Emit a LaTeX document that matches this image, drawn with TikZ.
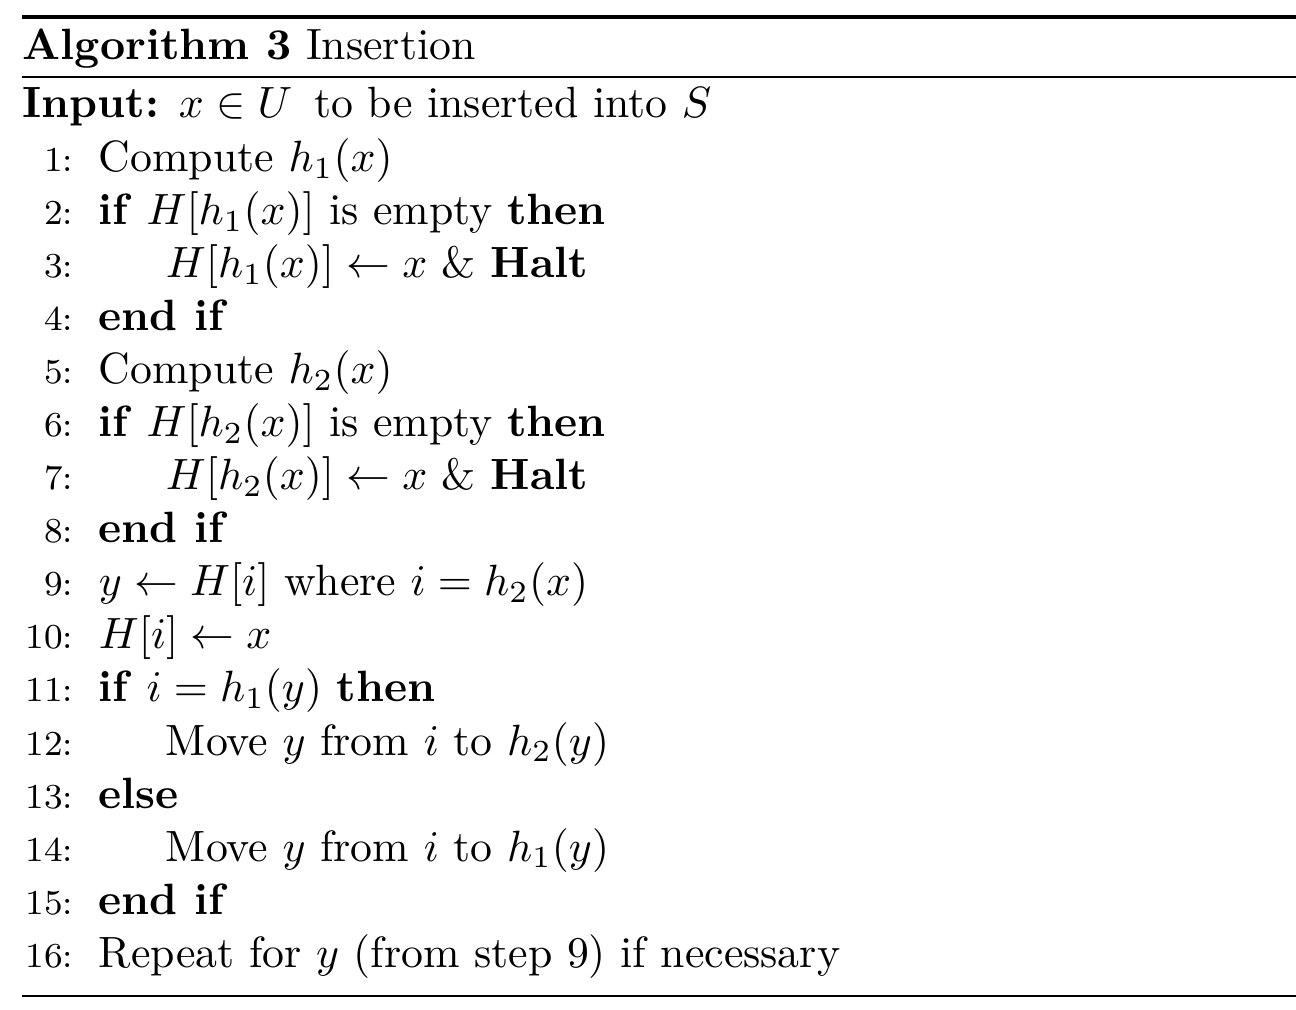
\documentclass[tikz,border=0pt]{standalone}
\usepackage{amsmath}
\usetikzlibrary{positioning}

\tikzset{
  txt/.style={inner sep=0pt, anchor=base west},
  lno/.style={inner sep=0pt, anchor=base east, font=\footnotesize},
}

\begin{document}
\begin{tikzpicture}[x=0.2283pt,y=-0.2283pt]
                \useasboundingbox (0,0) rectangle (1296,1010);
                % rules of the float
                \draw[line width=0.8pt] (22,17) -- (1296,17);
                \draw[line width=0.4pt] (22,77) -- (1296,77);
                \draw[line width=0.4pt] (22,996) -- (1296,996);
                \node[txt] (cap) at (22,60) {\textbf{Algorithm 3} Insertion};
                \node[txt] (input) at (22,118) {\textbf{Input:} $x \in U$\, to be inserted into $S$};
                % numbered steps
                \foreach \n/\ind/\t in {
                  1/0/{Compute $h_1(x)$},
                  2/0/{\textbf{if} $H[h_1(x)]$ is empty \textbf{then}},
                  3/1/{$H[h_1(x)] \leftarrow x$ \& \textbf{Halt}},
                  4/0/{\textbf{end if}},
                  5/0/{Compute $h_2(x)$},
                  6/0/{\textbf{if} $H[h_2(x)]$ is empty \textbf{then}},
                  7/1/{$H[h_2(x)] \leftarrow x$ \& \textbf{Halt}},
                  8/0/{\textbf{end if}},
                  9/0/{$y \leftarrow H[i]$ where $i = h_2(x)$},
                  10/0/{$H[i] \leftarrow x$},
                  11/0/{\textbf{if} $i = h_1(y)$ \textbf{then}},
                  12/1/{Move $y$ from $i$ to $h_2(y)$},
                  13/0/{\textbf{else}},
                  14/1/{Move $y$ from $i$ to $h_1(y)$},
                  15/0/{\textbf{end if}},
                  16/0/{Repeat for $y$ (from step 9) if necessary}}{
                  \node[lno] (num\n) at (74,{172+53*(\n-1)}) {\n:};
                  \node[txt] (step\n) at ({98+67*\ind},{172+53*(\n-1)}) {\t};
                }
            \end{tikzpicture}
\end{document}
